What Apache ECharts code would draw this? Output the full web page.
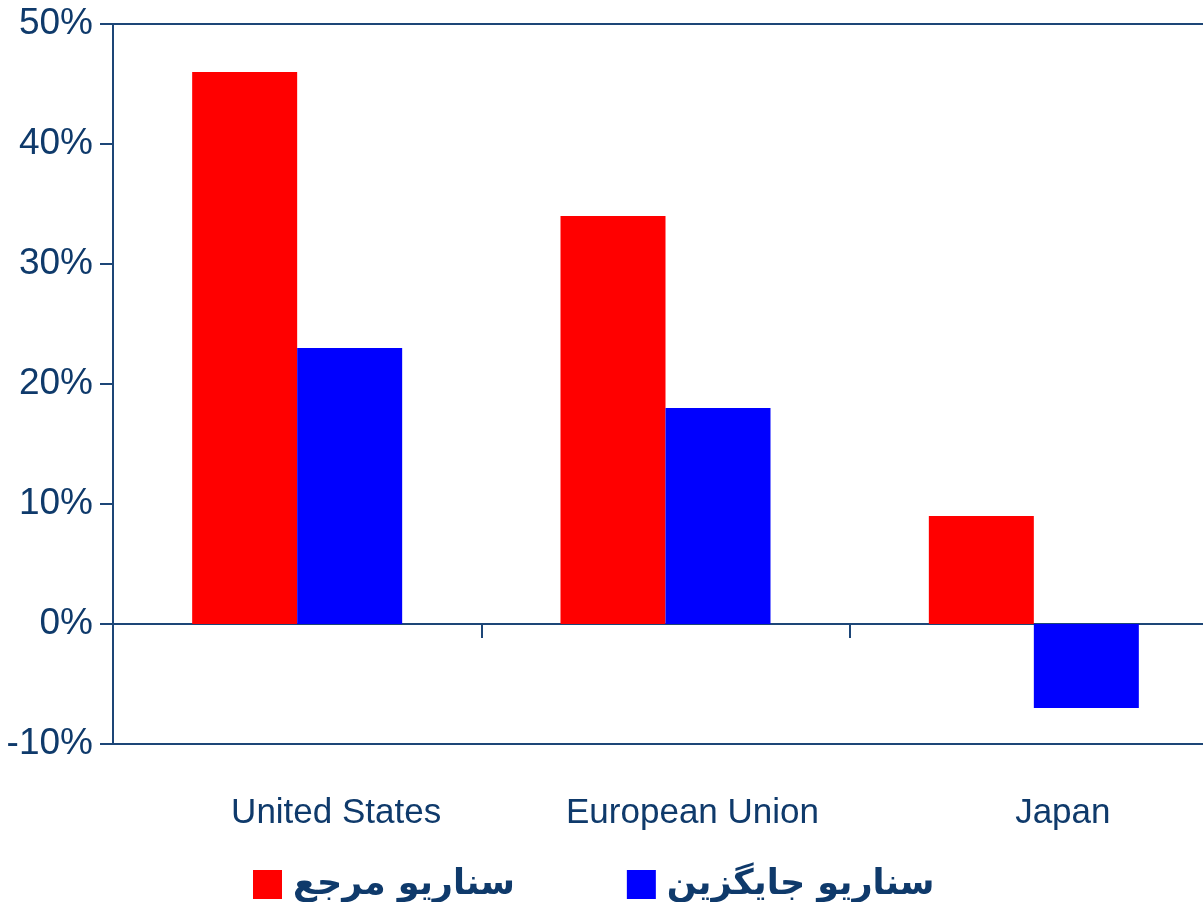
<!DOCTYPE html>
<html><head><meta charset="utf-8">
<script src="https://cdn.jsdelivr.net/npm/echarts@6/dist/echarts.min.js"></script>
<style>html,body{margin:0;padding:0;background:#fff}#c{width:1203px;height:902px}</style>
</head><body><div id="c"></div>
<script>
const categories = ['United States', 'European Union', 'Japan'];
const labelShift = [78, 54, 58];
const seriesNames = ['سناریو مرجع', 'سناریو جایگزین'];
const referenceValues = [46, 34, 9];
const alternativeValues = [23, 18, -7];
const yMin = -10, yMax = 50, yStep = 10;

const navy = '#0f3a6b';
const lineCol = '#1d4677';
const chart = echarts.init(document.getElementById('c'));
chart.setOption({
  animation: false,
  backgroundColor: '#fff',
  grid: { left: 113, top: 24, right: -15, bottom: 158, outerBoundsMode: 'none', containLabel: false, show: true, borderColor: lineCol, borderWidth: 2, backgroundColor: 'transparent' },
  legend: {
    left: 248, top: 862, itemWidth: 29, itemHeight: 29, itemGap: 112,
    icon: 'rect',
    textStyle: { fontFamily: 'DejaVu Sans', fontWeight: 'bold', fontSize: 35, color: navy, padding: [0, 0, 0, 6] },
    data: seriesNames
  },
  xAxis: [{
    type: 'category',
    data: categories,
    axisLine: { onZero: true, lineStyle: { color: lineCol, width: 2 } },
    axisTick: { show: true, length: 14, lineStyle: { color: lineCol, width: 2 } },
    axisLabel: { show: false }
  }, {
    type: 'category',
    position: 'bottom',
    data: categories.map((c, i) => ({ value: c, textStyle: { padding: [0, 0, 0, labelShift[i]] } })),
    axisLine: { show: false, onZero: false },
    axisTick: { show: false },
    axisLabel: { show: true, margin: 52, fontFamily: 'Liberation Sans', fontSize: 35, color: navy }
  }],
  yAxis: {
    type: 'value', min: yMin, max: yMax, interval: yStep,
    axisLine: { show: true, lineStyle: { color: lineCol, width: 2 } },
    axisTick: { show: true, length: 13, lineStyle: { color: lineCol, width: 2 } },
    splitLine: { show: false },
    axisLabel: { formatter: '{value}%', margin: 20, fontFamily: 'Liberation Sans', fontSize: 37, color: navy }
  },
  series: [
    { name: seriesNames[0], type: 'bar', xAxisIndex: 0, data: referenceValues, barWidth: 105, barGap: '0%', itemStyle: { color: '#ff0000' } },
    { name: seriesNames[1], type: 'bar', xAxisIndex: 0, data: alternativeValues, barWidth: 105, barGap: '0%', itemStyle: { color: '#0000ff' } }
  ]
});
</script></body></html>
